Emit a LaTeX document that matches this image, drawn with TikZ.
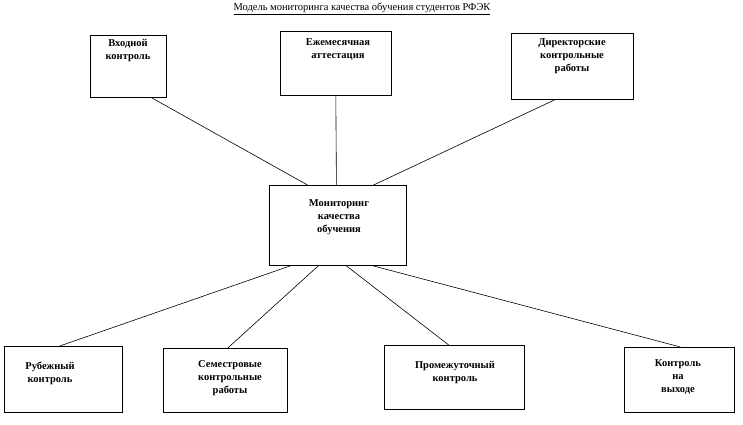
\documentclass[tikz,border=0pt]{standalone}
\usepackage{fontspec}
\setmainfont{Liberation Serif}
\usetikzlibrary{calc}
\begin{document}
\begin{tikzpicture}[x=1pt,y=-1pt,
  box/.style={draw,line width=0.6pt,inner sep=0pt,anchor=north west},
  lbl/.style={font=\bfseries\fontsize{10.5}{13}\selectfont,align=center,anchor=north,inner sep=0pt},
  ln/.style={line width=0.6pt}]
\useasboundingbox (0,0) rectangle (743,424);
\node[font=\fontsize{10.5}{12}\selectfont,anchor=north,inner sep=0pt] (title) at (362,3) {\underline{Модель мониторинга качества обучения студентов РФЭК}};
% top boxes
\node[box,minimum width=76,minimum height=62] (a) at (90,35) {};
\node[lbl] (at) at (128,39) {Входной\\контроль};
\node[box,minimum width=111,minimum height=64] (b) at (280,31) {};
\node[lbl] (bt) at (338,38) {Ежемесячная\\аттестация};
\node[box,minimum width=122,minimum height=66] (c) at (511,33) {};
\node[lbl] (ct) at (572,38) {Директорские\\контрольные\\работы};
% center
\node[box,minimum width=137,minimum height=80] (m) at (269,185) {};
\node[lbl] (mt) at (339,199) {Мониторинг\\качества\\обучения};
% bottom boxes
\node[box,minimum width=118,minimum height=66] (d) at (4,346) {};
\node[lbl] (dt) at (50,362) {Рубежный\\контроль};
\node[box,minimum width=124,minimum height=64] (e) at (163,348) {};
\node[lbl] (et) at (230,360) {Семестровые\\контрольные\\работы};
\node[box,minimum width=140,minimum height=64] (f) at (384,345) {};
\node[lbl] (ft) at (455,361) {Промежуточный\\контроль};
\node[box,minimum width=110,minimum height=65] (g) at (624,347) {};
\node[lbl] (gt) at (678,359) {Контроль\\на\\выходе};
% connectors
\draw[ln] ($(a.south west)!0.8!(a.south east)$) -- ($(m.north west)!0.28!(m.north east)$);
\draw[ln] ($(b.south west)!0.5!(b.south east)$) -- ($(m.north west)!0.49!(m.north east)$);
\draw[ln] ($(c.south west)!0.36!(c.south east)$) -- ($(m.north west)!0.76!(m.north east)$);
\draw[ln] ($(m.south west)!0.16!(m.south east)$) -- ($(d.north west)!0.47!(d.north east)$);
\draw[ln] ($(m.south west)!0.36!(m.south east)$) -- ($(e.north west)!0.52!(e.north east)$);
\draw[ln] ($(m.south west)!0.56!(m.south east)$) -- ($(f.north west)!0.46!(f.north east)$);
\draw[ln] ($(m.south west)!0.75!(m.south east)$) -- ($(g.north west)!0.51!(g.north east)$);
\end{tikzpicture}
\end{document}
